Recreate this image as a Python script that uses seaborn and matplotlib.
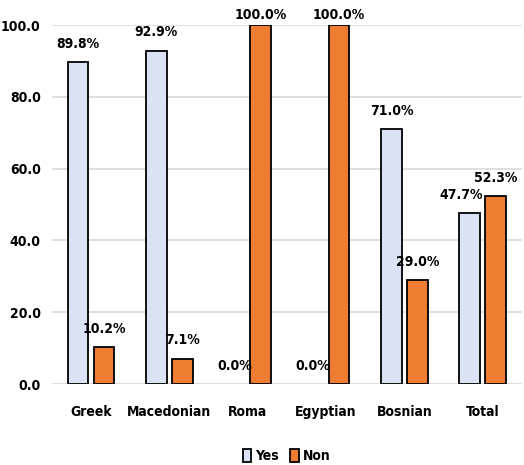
import matplotlib
matplotlib.use("Agg")
import matplotlib.pyplot as plt
import seaborn as sns
import pandas as pd

groups = ["Greek", "Macedonian", "Roma", "Egyptian", "Bosnian", "Total"]
yes_pct = [89.8, 92.9, 0.0, 0.0, 71.0, 47.7]
non_pct = [10.2, 7.1, 100.0, 100.0, 29.0, 52.3]
series = ["Yes", "Non"]
y_ticks = [0, 20, 40, 60, 80, 100]

df = pd.DataFrame({
    "group": groups * 2,
    "answer": ["Yes"] * len(groups) + ["Non"] * len(groups),
    "pct": yes_pct + non_pct,
})

sns.set_theme(style="white")
plt.rcParams["font.family"] = ["DejaVu Sans"]
plt.rcParams["font.stretch"] = "condensed"
plt.rcParams["font.weight"] = "bold"
plt.rcParams["text.color"] = "black"
plt.rcParams["xtick.color"] = "black"
plt.rcParams["ytick.color"] = "black"

fig = plt.figure(figsize=(5.24, 4.65), dpi=100)
ax = fig.add_axes([0.099, 0.174, 0.897, 0.772])

palette = {"Yes": "#DAE3F3", "Non": "#ED7D31"}
sns.barplot(data=df, x="group", y="pct", hue="answer", hue_order=series,
            order=groups, palette=palette, width=0.66, gap=0.2,
            edgecolor="black", linewidth=1.3, saturation=1, ax=ax, zorder=3)

fs = 10
ax.set_ylim(0, 100)
ax.set_xlim(-0.5, 5.5)
ax.set_yticks(y_ticks)
ax.set_yticklabels([f"{v:.1f}" for v in y_ticks], fontsize=fs, fontweight="bold")
ax.set_xticklabels(groups, fontsize=fs, fontweight="bold")
ax.tick_params(axis="x", length=0, pad=15)
ax.tick_params(axis="y", length=0, pad=8)
ax.yaxis.grid(True, color="#D9D9D9", linewidth=1.2, zorder=0)
ax.xaxis.grid(False)
for s in ax.spines.values():
    s.set_visible(False)
ax.set_xlabel("")
ax.set_ylabel("")

yes_bars, non_bars = ax.containers[0], ax.containers[1]
for i, container in enumerate(ax.containers):
    for j, bar in enumerate(container):
        h = bar.get_height()
        if h == 0:
            bar.set_linewidth(0)
        off_y = 2 if h >= 99 else 8
        off_x = 0
        # nudge the Yes label left when the neighbouring Non bar is similar in height
        if i == 0 and 0 < abs(non_pct[j] - h) < 10:
            off_x = -6
        ax.annotate(f"{h:.1f}%", (bar.get_x() + bar.get_width() / 2, h),
                    xytext=(off_x, off_y), textcoords="offset points",
                    ha="center", va="bottom", fontsize=fs,
                    fontweight="bold", annotation_clip=False)

leg = ax.legend(loc="upper center", bbox_to_anchor=(0.5, -0.145), ncol=2,
                frameon=False, fontsize=fs, handlelength=0.6,
                handleheight=1.1, handletextpad=0.3, columnspacing=0.8)
for t in leg.get_texts():
    t.set_fontweight("bold")

fig.savefig("out.png", dpi=100)
